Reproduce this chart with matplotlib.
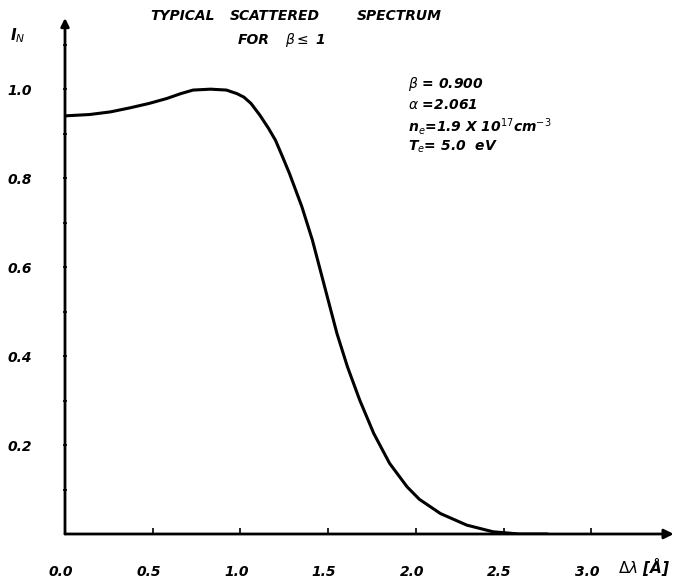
import matplotlib
matplotlib.use('Agg')
import matplotlib.pyplot as plt
import matplotlib.transforms as mtransforms

### Data ###
delta_lambda = [0.0, 0.14, 0.26, 0.37, 0.48, 0.58, 0.66, 0.73, 0.83, 0.92, 0.98,
                1.02, 1.06, 1.11, 1.16, 1.20, 1.24, 1.28, 1.35, 1.41, 1.46, 1.51,
                1.55, 1.61, 1.68, 1.76, 1.85, 1.95, 2.02, 2.14, 2.29, 2.44, 2.59, 2.75]
intensity = [0.94, 0.943, 0.949, 0.958, 0.968, 0.979, 0.99, 0.998, 1.0, 0.998, 0.99,
             0.982, 0.968, 0.942, 0.912, 0.885, 0.848, 0.81, 0.736, 0.661, 0.586, 0.511,
             0.451, 0.376, 0.301, 0.226, 0.159, 0.106, 0.078, 0.046, 0.020, 0.005, 0.0, 0.0]

x_ticks = [0.0, 0.5, 1.0, 1.5, 2.0, 2.5, 3.0]
x_tick_labels = ['0.0', '0.5', '1.0', '1.5', '2.0', '2.5', '3.0']
y_ticks = [0.2, 0.4, 0.6, 0.8, 1.0]
y_tick_labels = ['0.2', '0.4', '0.6', '0.8', '1.0']
y_minor = [0.1, 0.3, 0.5, 0.7, 0.9, 1.1]

title_words = ['TYPICAL', 'SCATTERED', 'SPECTRUM']
title_word_x = [150, 230, 357]  # left edge of each word, px
subtitle = [r'FOR', r'$\beta\leq$ 1']
subtitle_x = [238, 285]
params = [r'$\beta$ = 0.900', r'$\alpha$ =2.061',
          r'n$_e$=1.9 X 10$^{17}$cm$^{-3}$', r'T$_e$= 5.0  eV']

W, H = 698, 579
font = dict(family='DejaVu Sans', weight='bold', style='italic')

fig = plt.figure(figsize=(W / 100, H / 100), dpi=100)
ax = fig.add_axes([65 / W, 45 / H, 614 / W, 516 / H])
ax.set_xlim(0, 3.5)
ax.set_ylim(0, 1.16)
for s in ax.spines.values():
    s.set_visible(False)

# hand-drawn style axes with arrow heads
ax.annotate('', xy=(3.47, 0), xytext=(0, 0),
            arrowprops=dict(arrowstyle='-|>', lw=2, color='black', mutation_scale=14,
                            shrinkA=0, shrinkB=0))
ax.annotate('', xy=(0, 1.16), xytext=(0, 0),
            arrowprops=dict(arrowstyle='-|>', lw=2, color='black', mutation_scale=12,
                            shrinkA=0, shrinkB=0))

ax.plot(delta_lambda, intensity, color='black', lw=2.2,
        solid_capstyle='round', solid_joinstyle='round')

ax.set_xticks(x_ticks)
ax.set_xticklabels(x_tick_labels, fontsize=10, **font)
ax.set_yticks(y_ticks)
ax.set_yticklabels(y_tick_labels, fontsize=10, **font)
ax.set_yticks(y_minor, minor=True)
ax.tick_params(axis='x', direction='in', length=4, width=1.2, pad=22)
ax.tick_params(axis='y', which='both', direction='inout', length=3, width=1.2, pad=22)
shift = mtransforms.ScaledTranslation(-4 / 100, 0, fig.dpi_scale_trans)
for lbl in ax.get_xticklabels():
    lbl.set_transform(lbl.get_transform() + shift)

# title and labels
for word, x in zip(title_words, title_word_x):
    fig.text(x / W, 1 - 16 / H, word, ha='left', va='center', fontsize=10, **font)
for word, x in zip(subtitle, subtitle_x):
    fig.text(x / W, 1 - 40 / H, word, ha='left', va='center', fontsize=10, **font)
fig.text(10 / W, 1 - 36 / H, r'I$_N$', ha='left', va='center', fontsize=11, **font)
fig.text(618 / W, 1 - 567 / H, r'$\Delta\lambda$ [Å]', ha='left', va='center', fontsize=11, **font)

for i, line in enumerate(params):
    fig.text(408 / W, 1 - (84 + i * 21) / H, line, ha='left', va='center', fontsize=10, **font)

fig.savefig('out.png', dpi=100)
